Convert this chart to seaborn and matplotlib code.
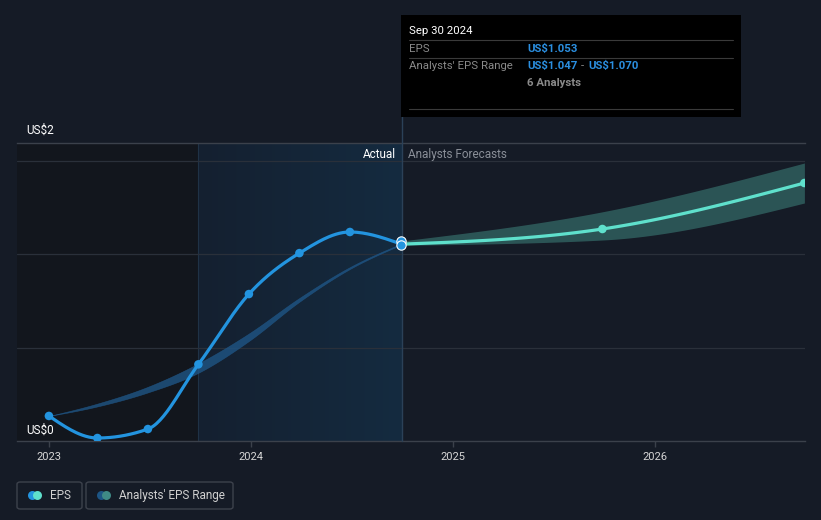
import numpy as np
import pandas as pd
import matplotlib.pyplot as plt
import seaborn as sns
from matplotlib.colors import LinearSegmentedColormap
from matplotlib.patches import Rectangle, FancyBboxPatch, Ellipse
from matplotlib.lines import Line2D

# quarterly EPS (fractional year of period end)
actual_dates = [2023.0, 2023.24, 2023.49, 2023.74, 2023.99, 2024.24, 2024.49, 2024.745]
actual_eps = [0.134, 0.016, 0.064, 0.41, 0.786, 1.005, 1.118, 1.053]
# past analyst estimate range
past_lo = [0.134, 0.185, 0.26, 0.365, 0.535, 0.745, 0.92, 1.05]
past_hi = [0.134, 0.20, 0.29, 0.415, 0.575, 0.765, 0.93, 1.056]
# forecasts
fc_dates = [2024.745, 2025.74, 2026.74]
fc_eps = [1.053, 1.134, 1.38]
fc_lo = [1.047, 1.075, 1.273]
fc_hi = [1.070, 1.226, 1.487]
hover_eps = [1.070, 1.047]
years = [2023, 2024, 2025, 2026]

BG = '#151b26'
BLUE = '#2394df'
TEAL = '#5fe0cc'
W, H = 821, 520


def smooth(x, y, n=30):
    # monotone cubic curve through the points (for drawing only)
    x = np.asarray(x, float)
    y = np.asarray(y, float)
    h = np.diff(x)
    d = np.diff(y) / h
    m = np.zeros_like(y)
    for i in range(1, len(y) - 1):
        if d[i - 1] * d[i] <= 0:
            m[i] = 0
        else:
            p = (d[i - 1] * h[i] + d[i] * h[i - 1]) / (h[i - 1] + h[i])
            m[i] = np.sign(d[i]) * min(abs(d[i - 1]), abs(d[i]), 0.5 * abs(p)) * 2
    m[0] = (3 * d[0] - m[1]) / 2 if len(y) > 2 else d[0]
    m[-1] = (3 * d[-1] - m[-2]) / 2 if len(y) > 2 else d[-1]
    xs, ys = [], []
    for i in range(len(h)):
        t = np.linspace(0, 1, n)
        h00 = 2 * t**3 - 3 * t**2 + 1
        h10 = t**3 - 2 * t**2 + t
        h01 = -2 * t**3 + 3 * t**2
        h11 = t**3 - t**2
        xs.append(x[i] + t * h[i])
        ys.append(h00 * y[i] + h10 * h[i] * m[i] + h01 * y[i + 1] + h11 * h[i] * m[i + 1])
    return np.concatenate(xs), np.concatenate(ys)


sns.set_theme(style='dark')
plt.rcParams['font.family'] = ['Roboto', 'DejaVu Sans']

fig = plt.figure(figsize=(W / 100, H / 100), dpi=100, facecolor=BG)
ax = fig.add_axes([17 / W, 1 - 441 / H, (805 - 17) / W, (441 - 143) / H])
ax.set_facecolor(BG)

x0, x1 = 2022.842, 2026.743
y0, y1 = 0, 1.594
ax.set_xlim(x0, x1)
ax.set_ylim(y0, y1)

# background zones
ax.axvspan(x0, 2023.74, color='#12161d', zorder=0, lw=0)
grad = LinearSegmentedColormap.from_list('g', ['#152030', '#142b40'])
ax.imshow(np.linspace(0, 1, 100).reshape(1, -1), cmap=grad, aspect='auto',
          extent=[2023.74, 2024.75, y0, y1], zorder=0.5)
ax.axvline(2023.74, color='#1f3246', lw=0.8, zorder=0.6)

for g in [0.5, 1.0, 1.5]:
    ax.axhline(g, color='#2a303a', lw=0.9, zorder=1)

# past estimate band
sx, slo = smooth(actual_dates, past_lo)
_, shi = smooth(actual_dates, past_hi)
ax.fill_between(sx, slo, shi, color='#1f5585', alpha=0.8, lw=0.4, edgecolor='#1f5585', zorder=2)

# forecast band
fx, flo = smooth(fc_dates, fc_lo)
_, fhi = smooth(fc_dates, fc_hi)
ax.fill_between(fx, flo, fhi, color='#2f5f5e', alpha=0.85, lw=0, zorder=2)

# lines
ex, ey = smooth(actual_dates, actual_eps)
ax.plot(ex, ey, color=BLUE, lw=2.3, zorder=4, solid_capstyle='round')
fxx, fyy = smooth(fc_dates, fc_eps)
ax.plot(fxx, fyy, color=TEAL, lw=2.3, zorder=4)

act = pd.DataFrame({'date': actual_dates[:-1], 'eps': actual_eps[:-1]})
sns.scatterplot(data=act, x='date', y='eps', color=BLUE, s=38, edgecolor='none', zorder=5, ax=ax)
fc = pd.DataFrame({'date': fc_dates[1:], 'eps': fc_eps[1:]})
sns.scatterplot(data=fc, x='date', y='eps', color=TEAL, s=38, edgecolor='none', zorder=5, ax=ax)
hv = pd.DataFrame({'date': [actual_dates[-1]] * 2, 'eps': hover_eps})
sns.scatterplot(data=hv, x='date', y='eps', color=BLUE, s=45, edgecolor='white', linewidth=0.8,
                zorder=6, ax=ax)

# divider between actual and forecast
ax.axvline(2024.75, ymin=0, ymax=(441 - 15) / (441 - 143), color='#2b4158', lw=1,
           zorder=3, clip_on=False)

ax.text(2024.72, 1.535, 'Actual', color='white', fontsize=8.5, ha='right', va='center')
ax.text(2024.78, 1.535, 'Analysts Forecasts', color='#8a8f98', fontsize=8.5, ha='left', va='center')

# axes styling
for s in ['left', 'right']:
    ax.spines[s].set_visible(False)
ax.spines['bottom'].set_color('#3b414b')
ax.spines['top'].set_color('#3b414b')
ax.spines['bottom'].set_linewidth(1)
ax.spines['top'].set_linewidth(1)
ax.set_xticks(years)
ax.set_xticklabels([str(y) for y in years], color='#d6d6d6', fontsize=8)
ax.tick_params(axis='x', length=4, color='#3b414b', width=1, pad=4, bottom=True)
ax.set_yticks([])
ax.set_xlabel('')
ax.set_ylabel('')
ax.grid(False)

fig.text(26 / W, 1 - 130 / H, 'US$2', color='white', fontsize=8.5, va='center')
fig.text(26 / W, 1 - 430 / H, 'US$0', color='white', fontsize=8.5, va='center')


def fxp(x):
    return x / W


def fyp(y):
    return 1 - y / H


# tooltip
fig.add_artist(Rectangle((fxp(401), fyp(117)), fxp(741) - fxp(401), fyp(15) - fyp(117),
                         transform=fig.transFigure, facecolor='black', edgecolor='none', zorder=10))
for yy in [40, 58, 109]:
    fig.add_artist(Line2D([fxp(409), fxp(733)], [fyp(yy), fyp(yy)], transform=fig.transFigure,
                          color='#3a3a3a', lw=0.8, zorder=11))
TS = 8.2
fig.text(fxp(409), fyp(31), 'Sep 30 2024', color='white', fontsize=TS, va='center', zorder=12)
fig.text(fxp(409), fyp(49), 'EPS', color='#8a8a8a', fontsize=TS, va='center', zorder=12)
fig.text(fxp(527), fyp(49), 'US$1.053', color='#2b8fe0', fontsize=TS, fontweight='bold',
         va='center', zorder=12)
fig.text(fxp(409), fyp(66), "Analysts' EPS Range", color='#8a8a8a', fontsize=TS, va='center', zorder=12)
fig.text(fxp(527), fyp(66), 'US$1.047', color='#2b8fe0', fontsize=TS, fontweight='bold',
         va='center', zorder=12)
fig.text(fxp(581), fyp(66), '-', color='#8a8a8a', fontsize=TS, va='center', zorder=12)
fig.text(fxp(588), fyp(66), 'US$1.070', color='#2b8fe0', fontsize=TS, fontweight='bold',
         va='center', zorder=12)
fig.text(fxp(527), fyp(83), '6 Analysts', color='#8a8a8a', fontsize=TS, fontweight='bold',
         va='center', zorder=12)


# legend boxes
def legbox(xa, xb, c1, c2, label):
    fig.add_artist(FancyBboxPatch((fxp(xa), fyp(509)), fxp(xb) - fxp(xa), fyp(482) - fyp(509),
                                  boxstyle='round,pad=0,rounding_size=0.004', transform=fig.transFigure,
                                  facecolor='none', edgecolor='#3d424c', lw=1))
    for cx, c in [(xa + 15.5, c1), (xa + 20.5, c2)]:
        fig.add_artist(Ellipse((fxp(cx), fyp(495.5)), 9 / W, 9 / H, transform=fig.transFigure,
                               facecolor=c, edgecolor='none'))
    fig.text(fxp(xa + 33), fyp(495.5), label, color='#d0d0d0', fontsize=8.5, va='center')


legbox(17, 82, BLUE, TEAL, 'EPS')
legbox(86, 233, '#1d5585', '#3f8a86', "Analysts' EPS Range")

fig.savefig('out.png', dpi=100, facecolor=BG)
